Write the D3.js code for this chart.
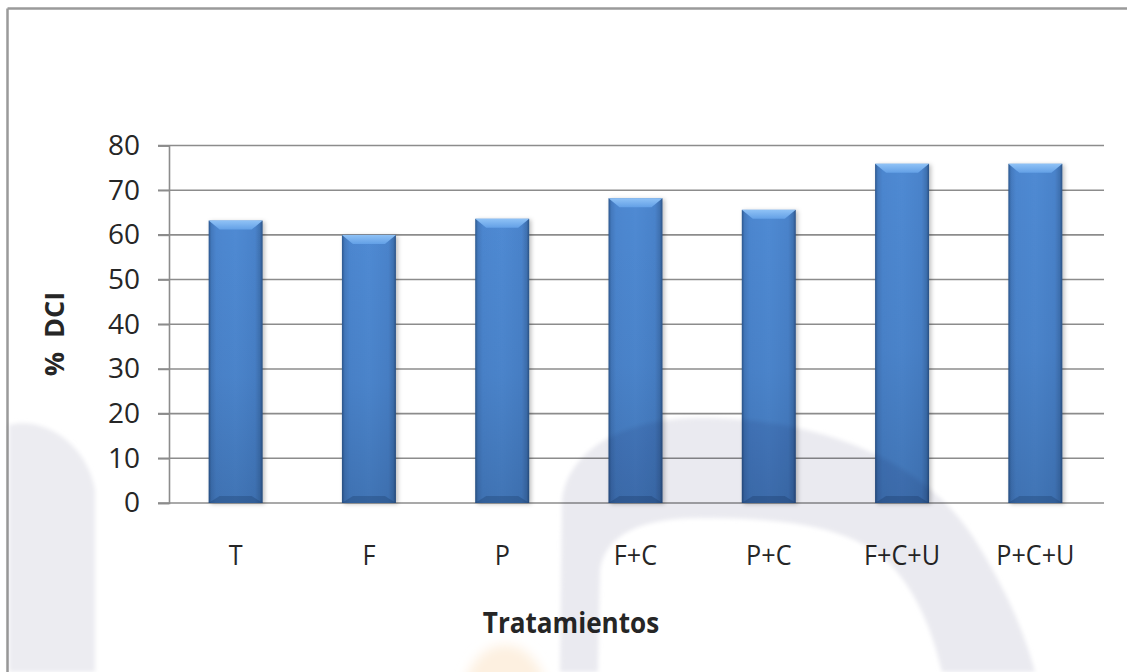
<!DOCTYPE html>
<html>
<head>
<meta charset="utf-8">
<script src="https://cdn.jsdelivr.net/npm/d3@7"></script>
<style>
  html, body { margin: 0; padding: 0; background: #fff; }
  svg { display: block; }
  text { font-family: "Open Sans", "Noto Sans", sans-serif; fill: #262626; }
</style>
</head>
<body>
<svg id="chart" width="1127" height="672"></svg>
<script>
// Treatment categories and % DCI per treatment
const categories = ["T", "F", "P", "F+C", "P+C", "F+C+U", "P+C+U"];
const dciValues = [63.2, 60.0, 63.6, 68.2, 65.6, 75.9, 75.9];
const yTicks = [0, 10, 20, 30, 40, 50, 60, 70, 80];
const xTitle = "Tratamientos";
const yTitle = "%\u00a0\u00a0DCI";

const svg = d3.select("#chart");
const W = 1127, H = 672;

const x = d3.scaleBand()
  .domain(categories)
  .range([169, 1102])
  .paddingInner(0.595)
  .paddingOuter(0.2975);

const y = d3.scaleLinear().domain([0, 80]).range([503, 145.5]);

const defs = svg.append("defs");

// bar body: darker rim on both sides
const gBody = defs.append("linearGradient").attr("id", "body").attr("x1", 0).attr("x2", 1).attr("y1", 0).attr("y2", 0);
[["0%", "#2c578e"], ["5%", "#4379bd"], ["14%", "#4c86cf"], ["50%", "#4f8ad3"], ["86%", "#4a83cb"], ["95%", "#3f72b2"], ["100%", "#2a5285"]]
  .forEach(([o, c]) => gBody.append("stop").attr("offset", o).attr("stop-color", c));

// darkening toward the base of each bar
const gShade = defs.append("linearGradient").attr("id", "shade").attr("x1", 0).attr("x2", 0).attr("y1", 0).attr("y2", 1);
gShade.append("stop").attr("offset", "0%").attr("stop-color", "#0a1e3c").attr("stop-opacity", 0);
gShade.append("stop").attr("offset", "55%").attr("stop-color", "#0a1e3c").attr("stop-opacity", 0.06);
gShade.append("stop").attr("offset", "100%").attr("stop-color", "#0a1e3c").attr("stop-opacity", 0.2);

// light bevel on top
const gTop = defs.append("linearGradient").attr("id", "topBevel").attr("x1", 0).attr("x2", 0).attr("y1", 0).attr("y2", 1);
gTop.append("stop").attr("offset", "0%").attr("stop-color", "#8fc2f6");
gTop.append("stop").attr("offset", "100%").attr("stop-color", "#63a0e6");

const shadow = defs.append("filter").attr("id", "barShadow").attr("x", "-20%").attr("y", "-5%").attr("width", "150%").attr("height", "115%");
shadow.append("feDropShadow").attr("dx", 2).attr("dy", 1).attr("stdDeviation", 2).attr("flood-color", "#000").attr("flood-opacity", 0.25);

const soft = defs.append("filter").attr("id", "soft").attr("x", "-30%").attr("y", "-30%").attr("width", "160%").attr("height", "160%");
soft.append("feGaussianBlur").attr("stdDeviation", 6);

const edge = defs.append("filter").attr("id", "edge").attr("x", "-5%").attr("y", "-5%").attr("width", "110%").attr("height", "110%");
edge.append("feGaussianBlur").attr("stdDeviation", 2);

// outer frame (top and left edges)
svg.append("line").attr("x1", 7.5).attr("x2", W).attr("y1", 8.5).attr("y2", 8.5)
  .attr("stroke", "#9a9a9a").attr("stroke-width", 2.5);
svg.append("line").attr("x1", 7.5).attr("x2", 7.5).attr("y1", 8.5).attr("y2", H)
  .attr("stroke", "#9a9a9a").attr("stroke-width", 2.5);

// gridlines
svg.append("g").selectAll("line").data(yTicks).join("line")
  .attr("x1", 158).attr("x2", 1104)
  .attr("y1", d => y(d)).attr("y2", d => y(d))
  .attr("stroke", "#8c8c8c").attr("stroke-width", 1.6);

// y axis
const yAxis = svg.append("g").attr("transform", "translate(169,0)")
  .call(d3.axisLeft(y).tickValues(yTicks).tickSize(11).tickPadding(18));
yAxis.select(".domain").attr("stroke", "#8c8c8c").attr("stroke-width", 1.6);
yAxis.selectAll(".tick line").attr("stroke", "#8c8c8c").attr("stroke-width", 1.6);
yAxis.selectAll("text").style("font-size", "28px").style("font-family", "'Open Sans', sans-serif").attr("fill", "#262626");

// bars
const bw = x.bandwidth();
const bars = svg.append("g").selectAll("g").data(categories.map((c, i) => ({ c, v: dciValues[i] }))).join("g");
bars.append("rect")
  .attr("x", d => x(d.c)).attr("y", d => y(d.v))
  .attr("width", bw).attr("height", d => y(0) - y(d.v))
  .attr("fill", "url(#body)").attr("filter", "url(#barShadow)");
bars.append("rect")
  .attr("x", d => x(d.c)).attr("y", d => y(d.v))
  .attr("width", bw).attr("height", d => y(0) - y(d.v))
  .attr("fill", "url(#shade)");
const cx = 11, cy = 9;
bars.append("path")
  .attr("d", d => {
    const x0 = x(d.c), x1 = x0 + bw, y0 = y(d.v);
    return `M${x0},${y0}L${x1},${y0}L${x1 - cx},${y0 + cy}L${x0 + cx},${y0 + cy}Z`;
  })
  .attr("fill", "url(#topBevel)");
bars.append("path")
  .attr("d", d => {
    const x0 = x(d.c), x1 = x0 + bw, yb = y(0);
    return `M${x0},${yb}L${x1},${yb}L${x1 - cx},${yb - 7}L${x0 + cx},${yb - 7}Z`;
  })
  .attr("fill", "#1d3f6e").attr("opacity", 0.35);

// x axis labels
const xAxis = svg.append("g").attr("transform", `translate(0,${y(0)})`)
  .call(d3.axisBottom(x).tickSize(0));
xAxis.select(".domain").remove();
xAxis.selectAll("text")
  .attr("y", 62).attr("dy", 0)
  .attr("transform", "scale(0.9,1)")
  .style("font-size", "28px").style("font-family", "'Open Sans', sans-serif").attr("fill", "#262626");

// axis titles
svg.append("text")
  .attr("x", 571 / 0.9).attr("y", 633)
  .attr("transform", "scale(0.9,1)")
  .attr("text-anchor", "middle")
  .style("font-size", "29px").style("font-weight", "bold")
  .text(xTitle);

svg.append("text")
  .attr("transform", "translate(64,334) rotate(-90)")
  .attr("text-anchor", "middle")
  .style("font-size", "27px").style("font-weight", "bold")
  .text(yTitle);

// faint background emblem, multiplied over the chart
const wm = svg.append("g").style("mix-blend-mode", "multiply");
wm.append("path")
  .attr("d", "M9,672L9,425C40,416,86,440,95,490L95,672Z")
  .attr("fill", "#ececf1").attr("filter", "url(#edge)");
wm.append("path")
  .attr("d", "M560,672L562,500C570,440,640,418,700,418C820,418,925,460,975,540C1005,588,1024,630,1035,672L942,672C930,620,910,580,880,555C840,525,780,518,700,518C640,518,605,535,600,570L598,672Z")
  .attr("fill", "#eaeaf0").attr("filter", "url(#edge)");
wm.append("ellipse")
  .attr("cx", 505).attr("cy", 700).attr("rx", 42).attr("ry", 55)
  .attr("fill", "#fdf0e0").attr("filter", "url(#soft)");
</script>
</body>
</html>
